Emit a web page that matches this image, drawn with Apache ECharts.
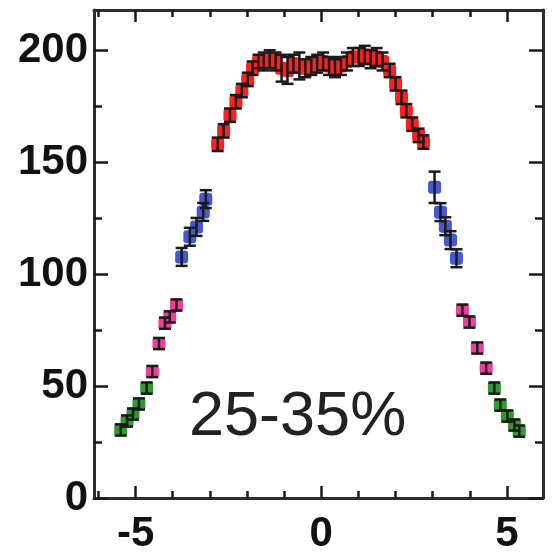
<!DOCTYPE html>
<html>
<head>
<meta charset="utf-8">
<script src="https://cdn.jsdelivr.net/npm/echarts@6/dist/echarts.min.js"></script>
<style>
  html, body { margin: 0; padding: 0; background: #fff; }
  #chart { width: 557px; height: 555px; }
</style>
</head>
<body>
<div id="chart"></div>
<script>
// Pseudorapidity distribution, centrality 25-35%
const redX   = [-2.79, -2.63, -2.46, -2.30, -2.14, -1.98, -1.85, -1.69,
                -1.55, -1.39, -1.23, -1.07, -0.91, -0.75, -0.59, -0.43, -0.27, -0.11,
                 0.05,  0.21,  0.37,  0.53,  0.69,  0.85,  1.01,  1.17,  1.33,  1.49, 1.65,
                 1.84,  2.00,  2.16,  2.29,  2.45,  2.62,  2.75];
const redY   = [158, 164, 171, 177, 182, 187, 192, 195,
                195, 196, 195, 192, 191, 194, 193, 192, 193, 194,
                195, 193, 192, 193, 195, 197, 197, 198, 196, 197, 195,
                191, 185, 179, 173, 167, 162, 159];
const redErr = [3, 3, 3, 3, 3, 3, 3, 3,
                4, 4, 4, 6, 6, 4, 6, 4, 4, 4,
                4, 4, 4, 4, 4, 4, 4, 4, 4, 4, 4,
                3, 3, 3, 3, 3, 3, 3];

const blueX   = [-3.76, -3.54, -3.36, -3.18, -3.11, 3.05, 3.21, 3.34, 3.48, 3.64];
const blueY   = [107.7, 116.7, 121.1, 127.8, 133.5, 138.8, 127.7, 121.4, 115.2, 107.1];
const blueErr = [4, 4, 4, 4, 4, 7, 4, 4, 4, 4];

const pinkX   = [-4.55, -4.37, -4.21, -4.08, -3.90, 3.80, 3.99, 4.20, 4.44];
const pinkY   = [56.5, 69.0, 78.1, 80.9, 86.2, 83.9, 78.6, 67.0, 58.0];
const pinkErr = [2.5, 2.5, 2.5, 2.5, 2.5, 2.5, 2.5, 2.5, 2.5];

const greenX   = [-5.40, -5.23, -5.07, -4.91, -4.70, 4.66, 4.82, 5.01, 5.20, 5.33];
const greenY   = [30.4, 34.4, 37.5, 42.0, 49.1, 49.1, 41.5, 36.6, 32.6, 29.9];
const greenErr = [2.5, 2.5, 2.5, 2.5, 2.5, 2.5, 2.5, 2.5, 2.5, 2.5];

const xLabels = [-5, 0, 5];
const yLabels = [0, 50, 100, 150, 200];
const panelLabel = '25-35%';

// Plot extents and tick spacing
const X_MIN = -6.12, X_MAX = 5.97, Y_MIN = 0, Y_MAX = 218;
const X_TICK_FIRST = -6, X_TICK_LAST = 5, X_MINOR = 1;
const X_MAJOR_FIRST = -5, X_MAJOR_LAST = 5, X_MAJOR = 5;
const Y_TICK_LAST = 200, Y_MINOR = 25, Y_MAJOR = 50;

const groups = [
  { name: 'red',   x: redX,   y: redY,   e: redErr,   color: '#ff1f1f' },
  { name: 'blue',  x: blueX,  y: blueY,  e: blueErr,  color: '#4758cf' },
  { name: 'pink',  x: pinkX,  y: pinkY,  e: pinkErr,  color: '#f03c9c' },
  { name: 'green', x: greenX, y: greenY, e: greenErr, color: '#2f9a2f' }
];

const W = 557, H = 555;
const G = { left: 94, right: 14, top: 10, bottom: 57 };
const plotW = W - G.left - G.right, plotH = H - G.top - G.bottom;
function xPix(v) { return G.left + (v - X_MIN) / (X_MAX - X_MIN) * plotW; }
function yPix(v) { return G.top + (Y_MAX - v) / (Y_MAX - Y_MIN) * plotH; }

const frameColor = '#2c2c34';
const tickColor = '#1a1a1a';
const labelFont = { fontSize: 42, fontWeight: 'bold', fontFamily: 'Liberation Sans, Arial, sans-serif', color: '#111' };

function frameAxis(kind, position, labels, margin) {
  return {
    type: 'value', gridIndex: 0, position: position,
    min: kind === 'x' ? X_MIN : Y_MIN, max: kind === 'x' ? X_MAX : Y_MAX,
    axisLine: { show: true, onZero: false, lineStyle: { color: frameColor, width: 3 } },
    axisTick: { show: false },
    axisLabel: labels ? Object.assign({ show: true, margin: margin, customValues: labels }, labelFont)
                      : { show: false },
    splitLine: { show: false }
  };
}
// Axis that only carries inward tick marks, pinned to its grid edge
function tickAxis(grid, position, min, max, interval, len) {
  return {
    type: 'value', gridIndex: grid, position: position, min: min, max: max, interval: interval,
    axisLine: { show: false, onZero: false },
    axisTick: { show: true, inside: true, length: len, lineStyle: { color: tickColor, width: 2.5 } },
    axisLabel: { show: false },
    splitLine: { show: false }
  };
}
function hiddenAxis(grid, min, max) {
  return { type: 'value', gridIndex: grid, min: min, max: max, show: false,
           axisLine: { onZero: false } };
}

function blackLine(x1, y1, x2, y2) {
  return { type: 'line', shape: { x1: x1, y1: y1, x2: x2, y2: y2 },
           style: { stroke: tickColor, lineWidth: 2.5 } };
}
function errorBarItem(params, api) {
  const x = api.value(0), y = api.value(1), e = api.value(2);
  const top = api.coord([x, y + e]);
  const bot = api.coord([x, y - e]);
  const hw = 6;
  return {
    type: 'group',
    children: [
      blackLine(top[0], top[1], bot[0], bot[1]),
      blackLine(top[0] - hw, top[1], top[0] + hw, top[1]),
      blackLine(bot[0] - hw, bot[1], bot[0] + hw, bot[1])
    ]
  };
}

const series = [];
groups.forEach(function (g) {
  const pts = g.x.map(function (v, i) { return [v, g.y[i], g.e[i]]; });
  series.push({
    name: g.name, type: 'scatter', xAxisIndex: 0, yAxisIndex: 0,
    symbol: 'roundRect', symbolSize: 13,
    itemStyle: { color: g.color, opacity: 1 },
    data: pts, z: 3
  });
  series.push({
    name: g.name + '-err', type: 'custom', xAxisIndex: 0, yAxisIndex: 0,
    renderItem: errorBarItem, data: pts, z: 4, silent: true
  });
});

// Grids sharing the plot's pixel mapping, sized so each tick axis starts on a tick value
const grids = [
  { left: G.left, right: G.right, top: G.top, bottom: G.bottom },
  { left: xPix(X_TICK_FIRST), right: W - xPix(X_TICK_LAST), top: G.top, bottom: G.bottom },
  { left: xPix(X_MAJOR_FIRST), right: W - xPix(X_MAJOR_LAST), top: G.top, bottom: G.bottom },
  { left: G.left, right: G.right, top: yPix(Y_TICK_LAST), bottom: G.bottom },
  { left: G.left, right: G.right, top: yPix(Y_TICK_LAST), bottom: G.bottom }
];

const chart = echarts.init(document.getElementById('chart'));
chart.setOption({
  backgroundColor: '#ffffff',
  animation: false,
  grid: grids,
  xAxis: [
    frameAxis('x', 'bottom', xLabels, 15),
    frameAxis('x', 'top', null, 0),
    tickAxis(1, 'bottom', X_TICK_FIRST, X_TICK_LAST, X_MINOR, 7),
    tickAxis(1, 'top', X_TICK_FIRST, X_TICK_LAST, X_MINOR, 7),
    tickAxis(2, 'bottom', X_MAJOR_FIRST, X_MAJOR_LAST, X_MAJOR, 12),
    tickAxis(2, 'top', X_MAJOR_FIRST, X_MAJOR_LAST, X_MAJOR, 12),
    hiddenAxis(3, X_MIN, X_MAX),
    hiddenAxis(4, X_MIN, X_MAX)
  ],
  yAxis: [
    frameAxis('y', 'left', yLabels, 6),
    frameAxis('y', 'right', null, 0),
    hiddenAxis(1, Y_MIN, Y_MAX),
    hiddenAxis(2, Y_MIN, Y_MAX),
    tickAxis(3, 'left', Y_MIN, Y_TICK_LAST, Y_MINOR, 8),
    tickAxis(3, 'right', Y_MIN, Y_TICK_LAST, Y_MINOR, 8),
    tickAxis(4, 'left', Y_MIN, Y_TICK_LAST, Y_MAJOR, 14),
    tickAxis(4, 'right', Y_MIN, Y_TICK_LAST, Y_MAJOR, 14)
  ],
  series: series,
  graphic: [{
    type: 'text', left: 189, top: 386, z: 20,
    style: { text: panelLabel, font: 'normal 63px "Liberation Sans", Arial, sans-serif', fill: '#222' }
  }]
});
</script>
</body>
</html>
